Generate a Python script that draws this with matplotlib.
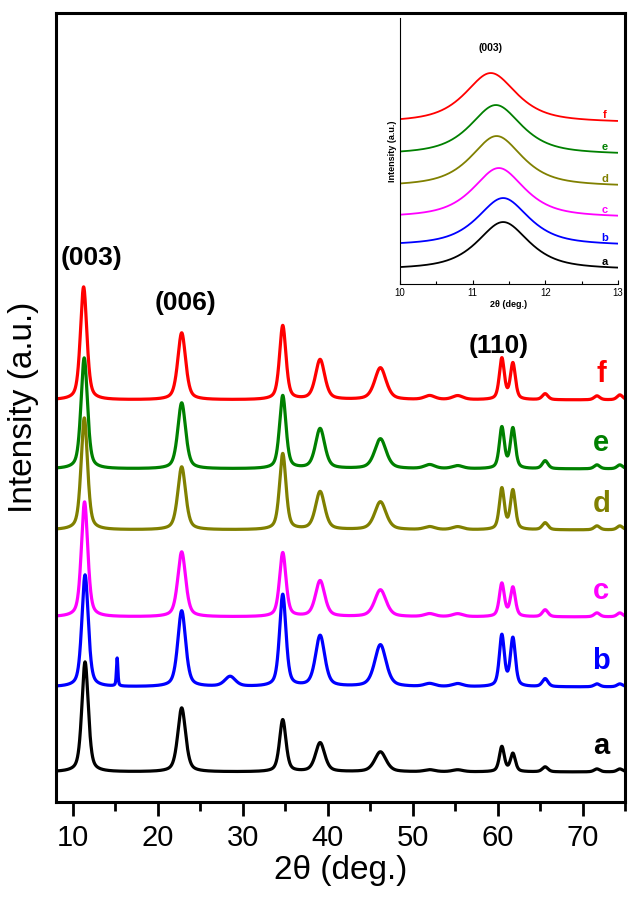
import numpy as np
import matplotlib.pyplot as plt
from matplotlib.ticker import MultipleLocator

plt.rcParams['font.family'] = ['Liberation Sans', 'DejaVu Sans']

# samples, bottom to top
samples = ['a', 'b', 'c', 'd', 'e', 'f']
colors = ['black', 'blue', 'magenta', 'olive', 'green', 'red']
offsets = [30, 115, 185, 272, 333, 402]

# (003) position of each sample
pos_003 = [11.42, 11.42, 11.36, 11.33, 11.32, 11.25]

# other reflections (deg) and their widths
peak_pos = [22.8, 34.7, 39.1, 46.2, 52.0, 55.3, 60.5, 61.8, 65.6, 71.7, 74.4]
peak_fwhm = [1.1, 0.9, 1.3, 1.6, 1.5, 1.5, 0.7, 0.7, 0.8, 0.8, 0.8]

# peak heights: first value is (003), then one per peak_pos
h_a = [110, 64, 52, 29, 20, 2, 2, 25, 18, 5, 3, 3]
h_b = [112, 76, 92, 51, 42, 3, 3, 51, 48, 8, 3, 3]
h_c = [115, 65, 64, 36, 27, 3, 3, 33, 29, 7, 4, 4]
h_d = [112, 63, 76, 38, 28, 3, 3, 41, 39, 7, 4, 4]
h_e = [111, 66, 73, 40, 30, 4, 3, 41, 40, 8, 4, 4]
h_f = [113, 67, 74, 40, 32, 4, 4, 41, 36, 6, 4, 5]
heights = [h_a, h_b, h_c, h_d, h_e, h_f]

# extra reflections only seen in sample b
b_extra_pos = [15.2, 28.5]
b_extra_fwhm = [0.2, 1.5]
b_extra_h = [28, 10]

# inset (003) region
inset_offsets = [14, 38, 66, 97, 129, 161]
inset_h = [48, 48, 50, 51, 50, 50]
fwhm_003 = 0.9


def pv(x, x0, h, w, eta=0.5):
    g = np.exp(-4 * np.log(2) * ((x - x0) / w) ** 2)
    l = 1 / (1 + 4 * ((x - x0) / w) ** 2)
    return h * (eta * l + (1 - eta) * g)


x = np.linspace(8, 75, 4000)
xi = np.linspace(10, 13, 800)

fig = plt.figure(figsize=(6.41, 9.06), dpi=100)
ax = fig.add_axes([0.0874, 0.1148, 0.8876, 0.8709])

for i in reversed(range(6)):
    y = pv(x, pos_003[i], heights[i][0], fwhm_003)
    for p, w, h in zip(peak_pos, peak_fwhm, heights[i][1:]):
        y = y + pv(x, p, h, w)
    if samples[i] == 'b':
        for p, w, h in zip(b_extra_pos, b_extra_fwhm, b_extra_h):
            y = y + pv(x, p, h, w)
    ax.plot(x, y + offsets[i], color=colors[i], lw=2.3)
    ax.text(72.2, offsets[i] + 26, samples[i], color=colors[i], fontsize=21,
            fontweight='bold', ha='center', va='center')

ax.text(12.2, 544, '(003)', fontsize=19, fontweight='bold', ha='center', va='center')
ax.text(23.3, 499, '(006)', fontsize=19, fontweight='bold', ha='center', va='center')
ax.text(60.1, 456, '(110)', fontsize=19, fontweight='bold', ha='center', va='center')

ax.set_xlim(8, 75)
ax.set_ylim(0, 789)
ax.set_yticks([])
ax.xaxis.set_major_locator(MultipleLocator(10))
ax.xaxis.set_minor_locator(MultipleLocator(5))
ax.tick_params(axis='x', which='major', direction='out', length=10, width=2,
               labelsize=21, pad=6)
ax.tick_params(axis='x', which='minor', direction='out', length=6.5, width=2)
for s in ax.spines.values():
    s.set_linewidth(2.2)
ax.set_xlabel('2θ (deg.)', fontsize=24, labelpad=2)
ax.set_ylabel('Intensity (a.u.)', fontsize=24, labelpad=12)

# inset
axi = fig.add_axes([0.624, 0.6865, 0.340, 0.2936])
for i in range(6):
    yi = pv(xi, pos_003[i], inset_h[i], 0.85, eta=0.75)
    axi.plot(xi, yi + inset_offsets[i], color=colors[i], lw=1.3)
    axi.text(12.82, inset_offsets[i] + 8, samples[i], color=colors[i], fontsize=8,
             fontweight='bold', ha='center', va='center')
axi.text(11.24, 236, '(003)', fontsize=7.5, fontweight='bold', ha='center', va='center')
axi.set_xlim(10, 13)
axi.set_ylim(0, 266)
axi.set_yticks([])
axi.xaxis.set_major_locator(MultipleLocator(1))
axi.xaxis.set_minor_locator(MultipleLocator(0.5))
axi.tick_params(axis='x', which='major', direction='in', length=3, width=0.8,
                labelsize=7, pad=3)
axi.tick_params(axis='x', which='minor', direction='in', length=2, width=0.8)
axi.spines['top'].set_visible(False)
axi.spines['right'].set_visible(False)
axi.spines['left'].set_linewidth(0.8)
axi.spines['bottom'].set_linewidth(0.8)
axi.patch.set_alpha(0)
axi.set_xlabel('2θ (deg.)', fontsize=6.5, fontweight='bold', labelpad=1)
axi.set_ylabel('Intensity (a.u.)', fontsize=6.5, fontweight='bold', labelpad=2)

fig.savefig('out.png', dpi=100)
